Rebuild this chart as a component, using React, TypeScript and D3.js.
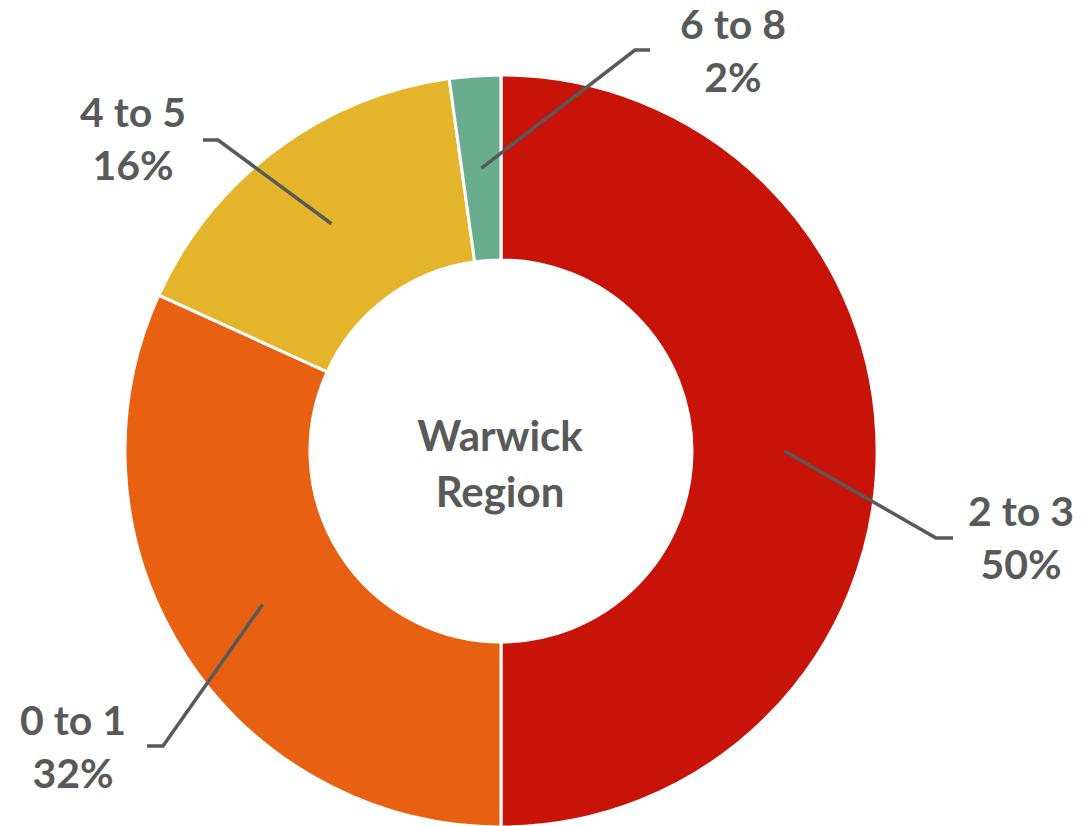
import React from "react";
import * as d3 from "d3";

const categories = ["2 to 3", "0 to 1", "4 to 5", "6 to 8"];
const values = [50, 31.8, 16.0, 2.2];
const percentLabels = ["50%", "32%", "16%", "2%"];
const colors = ["#C81309", "#E86112", "#E4B52B", "#69AD8E"];
const centerTitle = ["Warwick", "Region"];

// label layout: elbow point, end of horizontal tick, text center & first baseline
const labelLayout = [
  { elbow: [936, 538], end: [953, 538], tx: 1021, ty: 526 },
  { elbow: [163, 746], end: [147, 746], tx: 73, ty: 735 },
  { elbow: [218, 140], end: [203, 140], tx: 133, ty: 127 },
  { elbow: [635, 50], end: [650, 50], tx: 733, ty: 39 },
];

const W = 1083;
const H = 826;
const cx = 501;
const cy = 451;
const outerR = 376;
const innerR = 191;
const FONT = "Lato, 'Open Sans', sans-serif";
const TEXT = "#595959";

export default function App() {
  const pie = d3.pie<number>().sort(null).value((d) => d);
  const arcs = pie(values);
  const arcGen = d3.arc<d3.PieArcDatum<number>>().innerRadius(innerR).outerRadius(outerR);

  return (
    <svg
      width={W}
      height={H}
      style={{ position: "absolute", left: 0, top: 0, background: "#fff" }}
    >
      <g transform={`translate(${cx},${cy})`}>
        {arcs.map((a, i) => (
          <path key={i} d={arcGen(a) || ""} fill={colors[i]} stroke="#fff" strokeWidth={3} />
        ))}
      </g>
      {arcs.map((a, i) => {
        const [mx, my] = arcGen.centroid(a);
        const L = labelLayout[i];
        const pts = `${cx + mx},${cy + my} ${L.elbow[0]},${L.elbow[1]} ${L.end[0]},${L.end[1]}`;
        return (
          <g key={"l" + i}>
            <polyline points={pts} fill="none" stroke={TEXT} strokeWidth={3.5} />
            <text
              x={L.tx}
              y={L.ty}
              textAnchor="middle"
              fontFamily={FONT}
              fontWeight={700}
              fontSize={41}
              fill={TEXT}
            >
              {categories[i]}
            </text>
            <text
              x={L.tx}
              y={L.ty + 53}
              textAnchor="middle"
              fontFamily={FONT}
              fontWeight={700}
              fontSize={41}
              fill={TEXT}
            >
              {percentLabels[i]}
            </text>
          </g>
        );
      })}
      {centerTitle.map((t, i) => (
        <text
          key={"c" + i}
          x={cx - 1}
          y={451 + i * 56}
          textAnchor="middle"
          fontFamily={FONT}
          fontWeight={700}
          fontSize={42}
          fill={TEXT}
        >
          {t}
        </text>
      ))}
    </svg>
  );
}
